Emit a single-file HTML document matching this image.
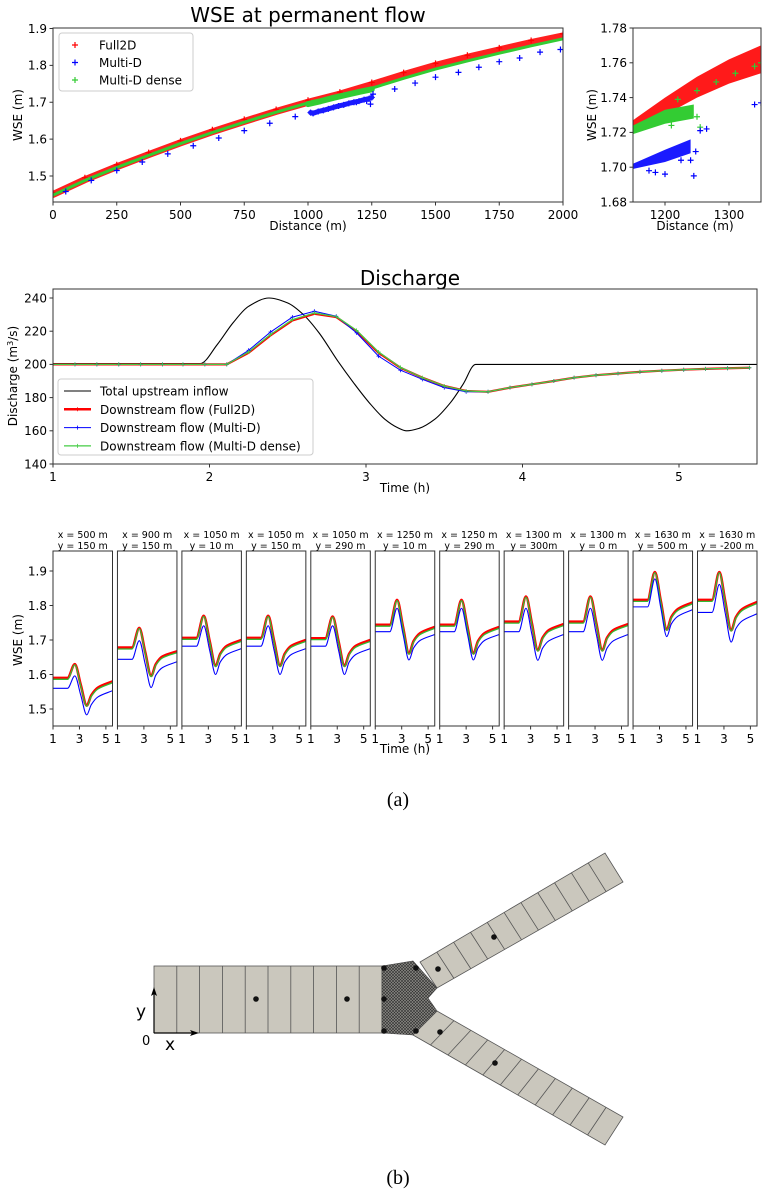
<!DOCTYPE html>
<html><head><meta charset="utf-8"><style>
html,body{margin:0;padding:0;background:#fff;}
svg{display:block;font-family:"DejaVu Sans","Liberation Sans",sans-serif;}
</style></head><body>
<svg id="fig" width="765" height="1197" viewBox="0 0 765 1197" xmlns="http://www.w3.org/2000/svg">
<defs>
<pattern id="meshpat" width="3" height="3" patternUnits="userSpaceOnUse">
<rect width="3" height="3" fill="#8a8984"/>
<path d="M0 0L3 3M3 0L0 3" stroke="#2d2d2d" stroke-width="0.6"/>
</pattern>
</defs>
<text x="308" y="22" font-size="20" text-anchor="middle">WSE at permanent flow</text>
<text x="410" y="285" font-size="20" text-anchor="middle">Discharge</text>
<text x="398" y="806" font-size="20" font-family="Liberation Serif,serif" text-anchor="middle">(a)</text>
<text x="398" y="1184" font-size="20" font-family="Liberation Serif,serif" text-anchor="middle">(b)</text>
<g id="mesh"></g>
</svg>
<script>
// ---------- data: WSE permanent flow ----------
const wseDist = [0,125,250,375,500,625,750,875,1000,1125,1250,1375,1500,1625,1750,1875,2000];
const wseFull2D = [1.450,1.490,1.525,1.558,1.590,1.620,1.648,1.675,1.700,1.722,1.748,1.775,1.800,1.822,1.842,1.862,1.880];
const wseDense = [1.448,1.488,1.523,1.556,1.588,1.618,1.646,1.673,1.698,1.716,1.738,1.765,1.790,1.812,1.833,1.853,1.872];
const denseClusterX = [1000,1050,1100,1150,1200,1250];
const denseClusterY = [1.695,1.703,1.712,1.720,1.728,1.735];
const multiDX = [50,150,250,350,450,550,650,750,850,950,1010,1020,1040,1060,1080,1100,1120,1140,1160,1180,1200,1220,1240,1250,1190,1230,1245,1255,1340,1420,1500,1590,1670,1750,1830,1910,1990];
const multiDY = [1.458,1.488,1.515,1.538,1.560,1.582,1.603,1.623,1.643,1.661,1.672,1.670,1.675,1.678,1.682,1.686,1.690,1.693,1.697,1.700,1.703,1.707,1.710,1.713,1.700,1.703,1.695,1.722,1.736,1.752,1.768,1.781,1.795,1.810,1.820,1.836,1.843];
const xTicksTop = [0,250,500,750,1000,1250,1500,1750,2000];
const yTicksTop = [1.5,1.6,1.7,1.8,1.9];
// inset
const insX = [1150,1200,1250,1300,1350];
const insRedLo = [1.720,1.730,1.740,1.748,1.754];
const insRedHi = [1.727,1.740,1.752,1.762,1.770];
const insGreenX = [1150,1200,1245];
const insGreenLo = [1.719,1.725,1.728];
const insGreenHi = [1.724,1.733,1.736];
const insGreenPtX = [1210,1220,1250,1280,1310,1340,1350,1250,1255];
const insGreenPtY = [1.724,1.739,1.744,1.749,1.754,1.758,1.760,1.729,1.723];
const insBlueX = [1150,1200,1240];
const insBlueLo = [1.699,1.703,1.708];
const insBlueHi = [1.702,1.710,1.716];
const insBluePtX = [1175,1185,1200,1225,1240,1245,1248,1255,1265,1340,1350];
const insBluePtY = [1.698,1.697,1.696,1.704,1.704,1.695,1.709,1.721,1.722,1.736,1.737];
const xTicksIns = [1200,1300];
const yTicksIns = [1.68,1.70,1.72,1.74,1.76,1.78];
// ---------- data: discharge ----------
const inflowT = [1,1.94,2.05,2.15,2.25,2.38,2.5,2.6,2.7,2.82,2.92,3.02,3.12,3.2,3.26,3.34,3.44,3.54,3.62,3.7,5.5];
const inflowQ = [200.5,200.5,212,225,235,240,237,230,219,202,189,177,167,162,160,161.5,167,177,188,200,200];
const dsT = [1,1.14,1.28,1.42,1.56,1.7,1.83,1.97,2.11,2.25,2.39,2.53,2.67,2.81,2.94,3.08,3.22,3.36,3.5,3.64,3.78,3.92,4.06,4.2,4.33,4.47,4.61,4.75,4.89,5.03,5.17,5.31,5.45];
const dsFull2D = [200,200,200,200,200,200,200,200,200,207,217.5,226.5,230.5,228.5,220,207,198,192,187,184,183.5,186,188,190,192,193.5,194.5,195.5,196.2,196.8,197.3,197.7,198];
const dsMultiD = [200,200,200,200,200,200,200,200,200,208.5,219.5,228.5,232,229,219,205,196.5,191,186,183.5,183.5,186,188,190,192,193.5,194.5,195.5,196.2,196.8,197.3,197.7,198];
const dsDense = [200,200,200,200,200,200,200,200,200,207.5,218,227,231,228.8,220.5,207.5,198.2,192,187,184,183.5,186,188,190,192,193.5,194.5,195.5,196.2,196.8,197.3,197.7,198];
const qTicksX = [1,2,3,4,5];
const qTicksY = [140,160,180,200,220,240];
// ---------- data: gauges ----------
const gaugeTitlesX = ["x = 500 m","x = 900 m","x = 1050 m","x = 1050 m","x = 1050 m","x = 1250 m","x = 1250 m","x = 1300 m","x = 1300 m","x = 1630 m","x = 1630 m"];
const gaugeTitlesY = ["y = 150 m","y = 150 m","y = 10 m","y = 150 m","y = 290 m","y = 10 m","y = 290 m","y = 300m","y = 0 m","y = 500 m","y = -200 m"];
const gaugeT = [1,2.1,2.65,3.1,3.55,3.9,4.4,5.5];
const gRed = [
[1.590,1.590,1.630,1.570,1.510,1.540,1.562,1.580],
[1.678,1.678,1.735,1.665,1.596,1.630,1.652,1.667],
[1.706,1.706,1.770,1.697,1.625,1.660,1.683,1.700],
[1.706,1.706,1.770,1.697,1.625,1.660,1.683,1.700],
[1.705,1.705,1.768,1.696,1.625,1.660,1.683,1.700],
[1.744,1.744,1.816,1.738,1.661,1.697,1.720,1.738],
[1.744,1.744,1.816,1.738,1.661,1.697,1.720,1.738],
[1.753,1.753,1.826,1.748,1.670,1.706,1.729,1.746],
[1.753,1.753,1.826,1.748,1.670,1.706,1.729,1.746],
[1.816,1.816,1.897,1.813,1.730,1.767,1.790,1.809],
[1.816,1.816,1.897,1.812,1.728,1.766,1.790,1.810]];
const gGreen = [
[1.586,1.586,1.628,1.567,1.508,1.537,1.558,1.576],
[1.674,1.674,1.733,1.662,1.594,1.627,1.648,1.663],
[1.702,1.702,1.768,1.694,1.623,1.657,1.679,1.696],
[1.702,1.702,1.768,1.694,1.623,1.657,1.679,1.696],
[1.701,1.701,1.766,1.693,1.623,1.657,1.679,1.696],
[1.740,1.740,1.814,1.735,1.659,1.694,1.716,1.734],
[1.740,1.740,1.814,1.735,1.659,1.694,1.716,1.734],
[1.749,1.749,1.824,1.745,1.668,1.703,1.725,1.742],
[1.749,1.749,1.824,1.745,1.668,1.703,1.725,1.742],
[1.812,1.812,1.895,1.810,1.728,1.764,1.786,1.805],
[1.812,1.812,1.895,1.809,1.726,1.763,1.786,1.806]];
const gBlue = [
[1.560,1.560,1.596,1.540,1.483,1.513,1.535,1.553],
[1.644,1.644,1.698,1.630,1.562,1.598,1.620,1.637],
[1.682,1.682,1.741,1.670,1.600,1.636,1.658,1.675],
[1.682,1.682,1.741,1.670,1.600,1.636,1.658,1.675],
[1.682,1.682,1.741,1.670,1.600,1.636,1.658,1.675],
[1.724,1.724,1.792,1.717,1.642,1.677,1.699,1.716],
[1.724,1.724,1.792,1.717,1.642,1.677,1.699,1.716],
[1.724,1.724,1.792,1.716,1.641,1.676,1.698,1.716],
[1.724,1.724,1.792,1.716,1.641,1.676,1.698,1.716],
[1.796,1.796,1.877,1.793,1.710,1.747,1.769,1.788],
[1.780,1.780,1.861,1.777,1.694,1.733,1.756,1.776]];
const gTicksX = [1,3,5];
const gTicksY = [1.5,1.6,1.7,1.8,1.9];

const NS = "http://www.w3.org/2000/svg";
const fig = document.getElementById('fig');
function mk(tag, attrs, parent){const e=document.createElementNS(NS,tag);for(const k in attrs)e.setAttribute(k,attrs[k]);(parent||fig).appendChild(e);return e;}
function lin(d0,d1,r0,r1){return v=>r0+(v-d0)*(r1-r0)/(d1-d0);}
let clipN=0;
function axesBox(x0,y0,x1,y1,name){
  const id='clip'+(clipN++);
  const cp=mk('clipPath',{id:id});
  mk('rect',{x:x0,y:y0,width:x1-x0,height:y1-y0},cp);
  const g=mk('g',{'clip-path':'url(#'+id+')'});
  
  
  return g;
}
function frame(x0,y0,x1,y1,name){
  const r=mk('rect',{x:x0,y:y0,width:x1-x0,height:y1-y0,fill:'none',stroke:'#333',"stroke-width":1});
  
  
}
function xTick(x,y,label,fs,name){
  mk('line',{x1:x,x2:x,y1:y,y2:y+3.5,stroke:'#333'});
  const t=mk('text',{x:x,y:y+5+fs,"font-size":fs,"text-anchor":"middle"});t.textContent=label;
  
  
}
function yTick(x,y,label,fs,name){
  mk('line',{x1:x-3.5,x2:x,y1:y,y2:y,stroke:'#333'});
  const t=mk('text',{x:x-6,y:y+fs*0.36,"font-size":fs,"text-anchor":"end"});t.textContent=label;
  
  
}
function label(x,y,txt,fs,rot,name){
  const t=mk('text',{x:x,y:y,"font-size":fs,"text-anchor":"middle"});
  if(rot)t.setAttribute('transform','rotate(-90 '+x+' '+y+')');
  t.textContent=txt;
  
  
  return t;
}
function plus(g,x,y,s,col,sw){
  return mk('path',{d:`M${x-s} ${y}H${x+s}M${x} ${y-s}V${y+s}`,stroke:col,"stroke-width":sw||1.2,fill:'none'},g);
}
function pline(g,xs,ys,sx,sy,col,w){
  return mk('polyline',{points:xs.map((v,i)=>sx(v).toFixed(2)+','+sy(ys[i]).toFixed(2)).join(' '),fill:'none',stroke:col,"stroke-width":w,"stroke-linejoin":"round","stroke-linecap":"round"},g);
}
function band(g,xs,lo,hi,sx,sy,col){
  const pts=xs.map((v,i)=>sx(v)+','+sy(hi[i])).concat(xs.map((v,i)=>sx(v)+','+sy(lo[i])).reverse());
  return mk('polygon',{points:pts.join(' '),fill:col},g);
}
function monoPath(xs,ys){
  const n=xs.length,m=[],d=[];
  for(let i=0;i<n-1;i++)d.push((ys[i+1]-ys[i])/(xs[i+1]-xs[i]));
  for(let i=0;i<n;i++){
    if(i===0)m.push(d[0]);else if(i===n-1)m.push(d[n-2]);
    else if(d[i-1]*d[i]<=0)m.push(0);
    else m.push(2/(1/d[i-1]+1/d[i]));
  }
  let s=`M${xs[0]} ${ys[0]}`;
  for(let i=0;i<n-1;i++){const h=xs[i+1]-xs[i];
    s+=`C${xs[i]+h/3} ${ys[i]+m[i]*h/3} ${xs[i+1]-h/3} ${ys[i+1]-m[i+1]*h/3} ${xs[i+1]} ${ys[i+1]}`;}
  return s;
}

// ===== Top main chart =====
(function(){
  const X0=53,X1=563,Y0=28,Y1=202;
  const sx=lin(0,2000,X0,X1), sy=lin(1.5,1.9,176,28.5);
  const g=axesBox(X0,Y0,X1,Y1,'wse-main');
  const r=pline(g,wseDist,wseFull2D,sx,sy,'#ff2020',7);
  
  
  wseDist.forEach((d,i)=>{const p=plus(g,sx(d),sy(wseFull2D[i])-2,3,'#ff0000');
    
    });
  const gr=pline(g,wseDist,wseDense,sx,sy,'#33cc33',3);
  
  
  const gc=pline(g,denseClusterX,denseClusterY,sx,sy,'#33cc33',6);
  
  
  multiDX.forEach((d,i)=>{const p=plus(g,sx(d),sy(multiDY[i]),3,'#0000ff');
    
    });
  const bc=pline(g,multiDX.slice(10,24),multiDY.slice(10,24),sx,sy,'#1a1aff',5);
  
  
  frame(X0,Y0,X1,Y1,'wse-main');
  xTicksTop.forEach(v=>xTick(sx(v),Y1,String(v),12,'x-tick-'+v));
  yTicksTop.forEach(v=>yTick(X0,sy(v),v.toFixed(1),12,'y-tick-'+v));
  label(308,230,'Distance (m)',12,false,'x-axis-title');
  label(22,115,'WSE (m)',12,true,'y-axis-title');
  const lg=mk('g',{});
  
  
  mk('rect',{x:59,y:33,width:134,height:58,rx:3,fill:'#fff',stroke:'#ccc'},lg);
  [['Full2D','#ff0000'],['Multi-D','#0000ff'],['Multi-D dense','#33cc33']].forEach((e,i)=>{
    const y=45+i*17.5;
    plus(lg,75,y,3,e[1]);
    const t=mk('text',{x:99,y:y+4.5,"font-size":12},lg);t.textContent=e[0];
    
    
  });
})();

// ===== Inset =====
(function(){
  const X0=633,X1=761,Y0=28,Y1=202;
  const sx=lin(1150,1350,X0,X1), sy=lin(1.68,1.78,202,28);
  const g=axesBox(X0,Y0,X1,Y1,'wse-inset');
  const rb=band(g,insX,insRedLo,insRedHi,sx,sy,'#ff1a1a');
  
  
  const gb=band(g,insGreenX,insGreenLo,insGreenHi,sx,sy,'#33cc33');
  
  
  insGreenPtX.forEach((d,i)=>{const p=plus(g,sx(d),sy(insGreenPtY[i]),3,'#33cc33');
    
    });
  const bb=band(g,insBlueX,insBlueLo,insBlueHi,sx,sy,'#1a1aff');
  
  
  insBluePtX.forEach((d,i)=>{const p=plus(g,sx(d),sy(insBluePtY[i]),3,'#0000ff');
    
    });
  frame(X0,Y0,X1,Y1,'wse-inset');
  xTicksIns.forEach(v=>xTick(sx(v),Y1,String(v),12,'inset-x-tick-'+v));
  yTicksIns.forEach(v=>yTick(X0,sy(v),v.toFixed(2),12,'inset-y-tick-'+v));
  label(695,230,'Distance (m)',12,false,'inset-x-axis-title');
  label(596,115,'WSE (m)',12,true,'inset-y-axis-title');
})();

// ===== Discharge =====
(function(){
  const X0=53,X1=757,Y0=289,Y1=464;
  const sx=lin(1,5,X0,679), sy=lin(140,240,464,298);
  const g=axesBox(X0,Y0,X1,Y1,'discharge');
  const bl=mk('path',{d:monoPath(inflowT.map(sx),inflowQ.map(sy)),fill:'none',stroke:'#000',"stroke-width":1.1},g);
  
  
  const rl=pline(g,dsT,dsFull2D,sx,sy,'#ff0000',2.2);
  
  
  const ul=pline(g,dsT,dsMultiD,sx,sy,'#0000ff',1);
  
  
  const gl=pline(g,dsT,dsDense,sx,sy,'#44cc44',1.3);
  
  
  dsT.forEach((t,i)=>{
    const p=plus(g,sx(t),sy(dsMultiD[i]),2,'#0000ff',0.8);
    
    
    const q=plus(g,sx(t),sy(dsDense[i]),2,'#44cc44',0.8);
    
    
  });
  frame(X0,Y0,X1,Y1,'discharge');
  qTicksX.forEach(v=>xTick(sx(v),Y1,String(v),12,'q-x-tick-'+v));
  qTicksY.forEach(v=>yTick(X0,sy(v),String(v),12,'q-y-tick-'+v));
  label(405,492,'Time (h)',12,false,'q-x-axis-title');
  const yt=label(17,376,'',12,true,'q-y-axis-title');
  yt.textContent='Discharge (m';
  const sup=mk('tspan',{"font-size":8,dy:-4},yt);sup.textContent='3';
  const rest=mk('tspan',{dy:4},yt);rest.textContent='/s)';
  const lg=mk('g',{});
  
  
  mk('rect',{x:58,y:379,width:255,height:76,rx:3,fill:'#fff',stroke:'#ccc'},lg);
  [['Total upstream inflow','#000',1.1],['Downstream flow (Full2D)','#ff0000',2.5],['Downstream flow (Multi-D)','#0000ff',1],['Downstream flow (Multi-D dense)','#44cc44',1.3]].forEach((e,i)=>{
    const y=391+i*18.3;
    mk('line',{x1:64,x2:91,y1:y,y2:y,stroke:e[1],"stroke-width":e[2]},lg);
    if(i>0)plus(lg,77.5,y,2,e[1],0.8);
    const t=mk('text',{x:100,y:y+4.5,"font-size":12},lg);t.textContent=e[0];
    
    
  });
})();

// ===== Gauges =====
(function(){
  const Y0=551,Y1=726,W=59.5,STEP=64.45;
  const sy=lin(1.5,1.9,709,571);
  for(let p=0;p<11;p++){
    const X0=53+p*STEP,X1=X0+W;
    const sx=lin(1,5.5,X0,X1);
    const g=axesBox(X0,Y0,X1,Y1,'gauge-'+(p+1));
    const pxs=gaugeT.map(sx);
    [[gRed[p],'#ff0000',2.6,'red'],[gGreen[p],'#33bb33',1.3,'green'],[gBlue[p],'#0000ff',1.1,'blue']].forEach(s=>{
      const path=mk('path',{d:monoPath(pxs,s[0].map(sy)),fill:'none',stroke:s[1],"stroke-width":s[2]},g);
      
      
    });
    frame(X0,Y0,X1,Y1,'gauge-'+(p+1));
    gTicksX.forEach(v=>xTick(sx(v),Y1,String(v),12,'gauge-x-tick'));
    if(p===0)gTicksY.forEach(v=>yTick(X0,sy(v),v.toFixed(1),12,'gauge-y-tick'));
    const cx=(X0+X1)/2;
    label(cx,538,gaugeTitlesX[p],9.5,false,'gauge-title-x');
    label(cx,549,gaugeTitlesY[p],9.5,false,'gauge-title-y');
  }
  label(405,753,'Time (h)',12,false,'gauge-x-axis-title');
  label(22,640,'WSE (m)',12,true,'gauge-y-axis-title');
})();

// ===== Mesh diagram =====
(function(){
  const g=document.getElementById('mesh');
  const cellFill='#cac7bd',edge='#555';
  const mainR=mk('rect',{x:154,y:966,width:228,height:67,fill:cellFill,stroke:edge,"stroke-width":0.8},g);
  
  
  for(let i=1;i<10;i++)mk('line',{x1:154+i*22.8,x2:154+i*22.8,y1:966,y2:1033,stroke:edge,"stroke-width":0.8},g);
  function branch(a,b,c,d,n,name){
    const pb=mk('polygon',{points:[a,b,d,c].map(p=>p.join(',')).join(' '),fill:cellFill,stroke:edge,"stroke-width":0.8},g);
    
    
    for(let i=1;i<n;i++){const t=i/n;
      mk('line',{x1:a[0]+(c[0]-a[0])*t,y1:a[1]+(c[1]-a[1])*t,x2:b[0]+(d[0]-b[0])*t,y2:b[1]+(d[1]-b[1])*t,stroke:edge,"stroke-width":0.8},g);}
  }
  branch([420,962],[437,988],[605,853],[623,882],11,'upper-branch');
  branch([437,1011],[413,1035],[623,1117],[605,1145],11,'lower-branch');
  const fine=mk('polygon',{points:'382,966 413,961 437,988 428,998 437,1011 413,1035 382,1033',fill:'url(#meshpat)',stroke:'#444',"stroke-width":0.6},g);
  
  
  const dots=[[384,968],[416,968],[438,969],[494,937],[256,999],[347,999],[384,999],[384,1031],[416,1031],[440,1032],[495,1063]];
  dots.forEach(p=>{const c=mk('circle',{cx:p[0],cy:p[1],r:2.8,fill:'#111'},g);
    
    });
  mk('line',{x1:154,y1:1033,x2:154,y2:992,stroke:'#000',"stroke-width":1.2},g);
  mk('path',{d:'M154 987L151 996L154 994L157 996Z',fill:'#000'},g);
  mk('line',{x1:154,y1:1033,x2:194,y2:1033,stroke:'#000',"stroke-width":1.2},g);
  mk('path',{d:'M199 1033L190 1030L192 1033L190 1036Z',fill:'#000'},g);
  const ty=mk('text',{x:136,y:1017,"font-size":17},g);ty.textContent='y';
  
  
  const t0=mk('text',{x:142,y:1045,"font-size":13},g);t0.textContent='0';
  
  
  const tx=mk('text',{x:165,y:1050,"font-size":17},g);tx.textContent='x';
  
  
})();
</script>
</body></html>
